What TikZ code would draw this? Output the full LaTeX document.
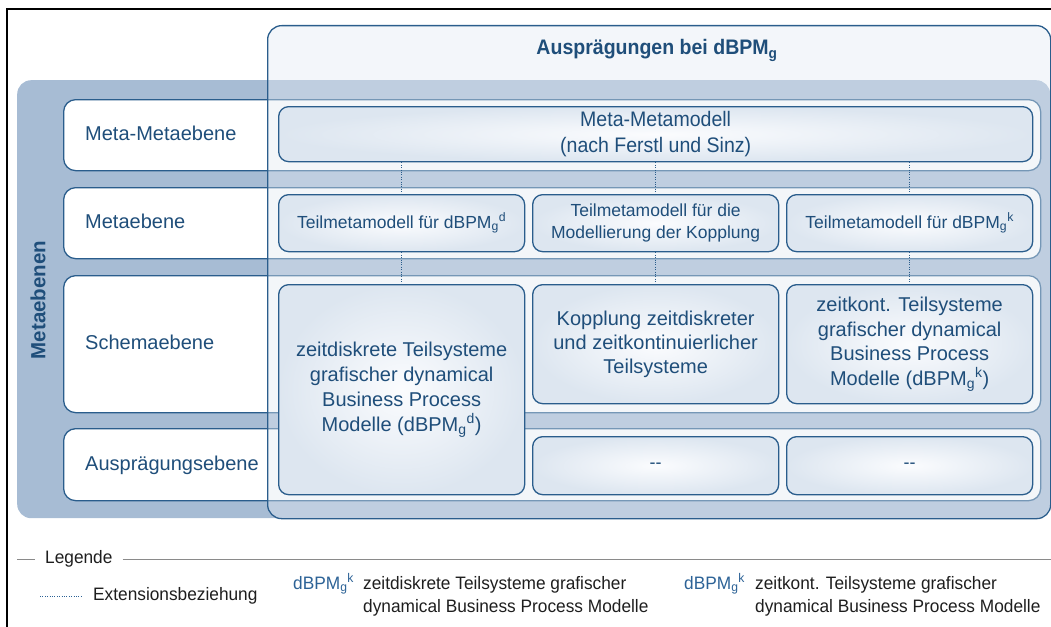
\documentclass[tikz,border=0pt]{standalone}
\usepackage{fontspec}
\setmainfont{Liberation Sans}
\newfontfamily\condensed[FakeStretch=0.93]{Liberation Sans}
\newfontfamily\legfont[FakeStretch=0.96]{Liberation Sans}
\usetikzlibrary{calc}

\definecolor{ink}{HTML}{1F4E7A}
\definecolor{edge}{HTML}{2A5D8C}
\definecolor{bandbg}{HTML}{A7BCD4}
\definecolor{veil}{HTML}{E2EAF2}
\definecolor{boxout}{HTML}{DDE6F0}
\definecolor{boxin}{HTML}{FBFCFE}
\definecolor{legendgrey}{HTML}{8A8A8A}
\definecolor{legendtext}{HTML}{1E1E1E}
\definecolor{legendblue}{HTML}{2C6296}

\newcommand\dbpmg[1]{dBPM\textsubscript{g}\textsuperscript{#1}}

\begin{document}
\begin{tikzpicture}[x=1pt,y=-1pt,
  frameline/.style={draw=black,line width=1.2pt},
  band/.style={fill=bandbg,rounded corners=14pt,inner sep=0pt,anchor=north west},
  rowstrip/.style={draw=edge,line width=1.3pt,fill=white,rounded corners=12pt,
    inner sep=0pt,anchor=north west,minimum width=977pt},
  rowlabel/.style={anchor=base west,inner sep=0pt,text=ink,
    font=\fontsize{20}{24}\selectfont},
  veilbox/.style={draw=edge,line width=1.3pt,fill=veil,fill opacity=0.41,
    rounded corners=14pt,inner sep=0pt,anchor=north west},
  cell/.style={draw=edge,line width=1.3pt,rounded corners=10pt,shading=radial,
    inner color=boxin,outer color=boxout,inner sep=0pt,anchor=north west,
    align=center,text=ink,minimum width=246pt},
  ext/.style={draw=edge,line width=0.9pt,dash pattern=on 1pt off 1.4pt},
  legline/.style={draw=legendgrey,line width=0.9pt},
  legtext/.style={inner sep=0pt,text=legendtext,align=left,
    font=\legfont\fontsize{18}{23}\selectfont},
  legsym/.style={anchor=base west,inner sep=0pt,text=legendblue,
    font=\legfont\fontsize{18}{22}\selectfont},
]
\useasboundingbox (0,0) rectangle (1051,626);

% outer frame (open to the right and bottom)
\coordinate (fA) at (7,640);
\coordinate (fB) at (7,9);
\coordinate (fC) at (1065,9);
\draw[frameline] (fA) -- (fB) -- (fC);

% blue band holding the meta levels
\node[band,minimum width=1033pt,minimum height=438pt] (bg) at (17,80) {};

% level strips
\node[rowstrip,minimum height=71pt]  (r1) at (63,99)  {};
\node[rowstrip,minimum height=71pt]  (r2) at (63,187) {};
\node[rowstrip,minimum height=137pt] (r3) at (63,275) {};
\node[rowstrip,minimum height=72pt]  (r4) at (63,428) {};

\node[rowlabel] (l1) at (85,140)   {Meta-Metaebene};
\node[rowlabel] (l2) at (85,228.5) {Metaebene};
\node[rowlabel] (l3) at (85,349.5) {Schemaebene};
\node[rowlabel] (l4) at (85,470)   {Ausprägungsebene};

\node[rotate=90,inner sep=0pt,text=ink,font=\bfseries\fontsize{20.5}{24}\selectfont]
  (lvl) at (38,300) {Metaebenen};

% translucent column panel
\node[veilbox,minimum width=783pt,minimum height=493pt] (ausp) at (267,25) {};
\node[anchor=base,inner sep=0pt,text=ink,font=\condensed\bfseries\fontsize{21}{25}\selectfont]
  (head) at (657,55) {Ausprägungen bei dBPM\textsubscript{g}};

% model boxes
\node[cell,minimum width=754pt,minimum height=55pt,font=\condensed\fontsize{21}{26}\selectfont]
  (mm) at (278,106) {Meta-Metamodell\\(nach Ferstl und Sinz)};

\node[cell,minimum height=57pt,font=\fontsize{17.5}{22}\selectfont]
  (t1) at (278,194) {Teilmetamodell für \dbpmg{d}};
\node[cell,minimum height=57pt,font=\fontsize{17.5}{22}\selectfont]
  (t2) at (532,194) {Teilmetamodell für die\\Modellierung der Kopplung};
\node[cell,minimum height=57pt,font=\fontsize{17.5}{22}\selectfont]
  (t3) at (786,194) {Teilmetamodell für \dbpmg{k}};

\node[cell,minimum height=210pt,font=\fontsize{20}{25}\selectfont]
  (s1) at (278,284) {zeitdiskrete Teilsysteme\\grafischer dynamical\\Business Process\\Modelle (\dbpmg{d})};
\node[cell,minimum height=119pt,font=\fontsize{20}{24}\selectfont]
  (s2) at (532,284) {Kopplung zeitdiskreter\\und zeitkontinuierlicher\\Teilsysteme};
\node[cell,minimum height=119pt,font=\fontsize{20}{24.5}\selectfont]
  (s3) at (786,284) {zeitkont. Teilsysteme\\grafischer dynamical\\Business Process\\Modelle (\dbpmg{k})};

\node[cell,minimum height=58pt,font=\fontsize{18}{22}\selectfont] (a2) at (532,436) {-{}-};
\node[cell,minimum height=58pt,font=\fontsize{18}{22}\selectfont] (a3) at (786,436) {-{}-};

% extension relations
\draw[ext] (mm.south -| t1.north) -- (t1.north);
\draw[ext] (mm.south -| t2.north) -- (t2.north);
\draw[ext] (mm.south -| t3.north) -- (t3.north);
\draw[ext] (t1.south) -- (s1.north);
\draw[ext] (t2.south) -- (s2.north);
\draw[ext] (t3.south) -- (s3.north);

% legend
\coordinate (lgA) at (17,559);
\coordinate (lgB) at (1060,559);
\node[anchor=west,inner sep=0pt,inner xsep=10pt,text=legendtext,
  font=\legfont\fontsize{18}{22}\selectfont] (leg) at (35,559) {Legende};
\draw[legline] (lgA) -- (leg.west);
\draw[legline] (leg.east) -- (lgB);

\coordinate (exA) at (40,596);
\coordinate (exB) at (81,596);
\draw[ext,draw=legendblue] (exA) -- (exB);
\node[legtext,anchor=west] (exT) at (93,596) {Extensionsbeziehung};

\node[legsym] (k1) at (293,589) {\dbpmg{k}};
\node[legtext,anchor=north west] (k1t) at (363,576)
  {zeitdiskrete Teilsysteme grafischer\\dynamical Business Process Modelle};
\node[legsym] (k2) at (684,589) {\dbpmg{k}};
\node[legtext,anchor=north west] (k2t) at (755,576)
  {zeitkont. Teilsysteme grafischer\\dynamical Business Process Modelle};
\end{tikzpicture}
\end{document}
